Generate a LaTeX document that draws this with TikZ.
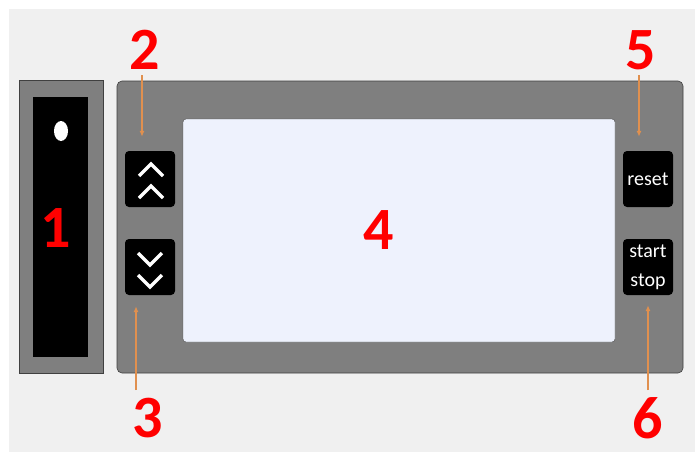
\documentclass[tikz,border=0pt]{standalone}
\usepackage{fontspec}
\setmainfont{Carlito}
\definecolor{fond}{HTML}{F0F0F0}
\definecolor{boitier}{HTML}{7F7F7F}
\definecolor{ecran}{HTML}{EEF2FD}
\definecolor{fleche}{HTML}{E0904F}
\definecolor{rouge}{HTML}{FF0000}
\tikzset{
  numero/.style={text=rouge,font=\bfseries\fontsize{60}{60}\selectfont,inner sep=0pt},
  bouton/.style={fill=black,rounded corners=4pt,minimum width=50pt,minimum height=56pt,inner sep=0pt,text=white,font=\fontsize{20}{30}\selectfont,align=center},
  repere/.style={draw=fleche,line width=1.3pt,-{Latex[length=6pt,width=5pt]}},
  chevron/.style={draw=white,line width=3.5pt}
}
\usetikzlibrary{arrows.meta}
\begin{document}
\begin{tikzpicture}[x=1pt,y=-1pt]
\useasboundingbox (0,0) rectangle (695,452);
\fill[white] (0,0) rectangle (695,452);
\fill[fond] (9,9) rectangle (695,452);
% module gauche
\filldraw[fill=boitier,draw=black!75,semithick] (19,80) rectangle (103,373);
\fill[black] (33,97) rectangle (88,357);
\fill[white] (61,131) ellipse (7 and 10);
\node[numero] (n1) at (56,228) {1};
% boitier principal
\filldraw[fill=boitier,draw=black!75,semithick,rounded corners=5pt] (117,81) rectangle (683,373);
\filldraw[fill=ecran,draw=black!70,rounded corners=3pt] (183,119) rectangle (615,342);
\node[numero] (n4) at (379,230) {4};
% boutons
\node[bouton] (haut) at (150,179) {};
\node[bouton] (bas) at (150,267) {};
\node[bouton] (reset) at (648,179) {reset};
\node[bouton,font=\fontsize{20}{29}\selectfont] (start) at (648,267) {start\\stop};
\draw[chevron] (139,176) -- (151,164) -- (163,176);
\draw[chevron] (139,198) -- (151,186) -- (163,198);
\draw[chevron] (138,253) -- (150,265) -- (162,253);
\draw[chevron] (138,275) -- (150,287) -- (162,275);
% reperes
\node[numero] (n2) at (145,50) {2};
\node[numero] (n3) at (148,418) {3};
\node[numero] (n5) at (641,50) {5};
\node[numero] (n6) at (648,418) {6};
\coordinate (c2) at (142,75);
\coordinate (c3) at (136,390);
\coordinate (c5) at (639,75);
\coordinate (c6) at (648,390);
\draw[repere,shorten >=14pt] (c2) -- (c2 |- haut.north);
\draw[repere,shorten >=11pt] (c3) -- (c3 |- bas.south);
\draw[repere,shorten >=14pt] (c5) -- (c5 |- reset.north);
\draw[repere,shorten >=10pt] (c6) -- (c6 |- start.south);
\end{tikzpicture}
\end{document}
